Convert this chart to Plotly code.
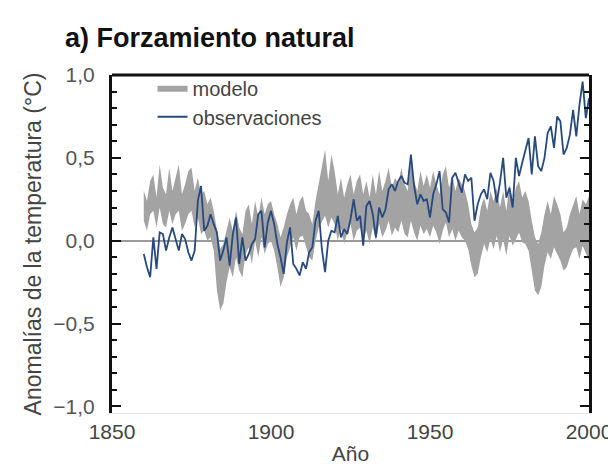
import plotly.graph_objects as go

years = list(range(1860, 2001))

model_upper = [
    0.30, 0.24, 0.36, 0.40, 0.26, 0.46, 0.32, 0.28, 0.44, 0.30,
    0.38, 0.46, 0.28, 0.34, 0.42, 0.44, 0.30, 0.38, 0.28, 0.30,
    0.22, 0.26, 0.18, 0.05, -0.05, -0.02, 0.06, 0.14, 0.06, 0.18,
    0.08, 0.04, 0.18, 0.22, 0.10, 0.24, 0.14, 0.26, 0.16, 0.22,
    0.24, 0.16, 0.10, 0.02, 0.08, 0.16, 0.22, 0.26, 0.16, 0.24,
    0.27, 0.18, 0.16, 0.10, 0.24, 0.34, 0.45, 0.55, 0.36, 0.52,
    0.42, 0.28, 0.38, 0.26, 0.34, 0.40, 0.28, 0.36, 0.40, 0.28,
    0.36, 0.26, 0.40, 0.28, 0.42, 0.30, 0.36, 0.44, 0.32, 0.38,
    0.34, 0.44, 0.34, 0.30, 0.48, 0.36, 0.30, 0.42, 0.33, 0.40,
    0.32, 0.42, 0.34, 0.28, 0.40, 0.45, 0.32, 0.40, 0.30, 0.38,
    0.34, 0.30, 0.22, 0.10, 0.05, 0.08, 0.20, 0.26, 0.18, 0.30,
    0.24, 0.32, 0.20, 0.30, 0.18, 0.34, 0.24, 0.32, 0.36, 0.26,
    0.30, 0.24, 0.12, 0.02, -0.02, 0.05, 0.16, 0.24, 0.16, 0.27,
    0.22, 0.16, 0.05, 0.08, 0.16, 0.22, 0.27, 0.16, 0.25, 0.22,
    0.27,
]

model_lower = [
    0.12, 0.06, 0.16, 0.18, 0.08, 0.20, 0.10, 0.08, 0.18, 0.10,
    0.16, 0.18, 0.06, 0.10, 0.16, 0.18, 0.08, 0.14, 0.04, 0.06,
    0.00, 0.02, -0.06, -0.30, -0.42, -0.38, -0.25, -0.16, -0.22, -0.10,
    -0.18, -0.22, -0.08, -0.04, -0.14, 0.00, -0.10, 0.02, -0.08, -0.02,
    0.00, -0.06, -0.16, -0.28, -0.22, -0.10, -0.04, 0.02, -0.06, 0.02,
    0.03, -0.04, -0.10, -0.12, 0.00, 0.08, 0.12, 0.15, 0.08, 0.14,
    0.10, 0.00, 0.08, -0.02, 0.05, 0.10, 0.00, 0.06, 0.08, 0.00,
    0.06, -0.02, 0.08, 0.00, 0.10, 0.02, 0.06, 0.12, 0.03, 0.08,
    0.05, 0.12, 0.04, 0.02, 0.12, 0.05, 0.00, 0.09, 0.04, 0.07,
    0.02, 0.09, 0.05, -0.02, 0.06, 0.11, 0.02, 0.07, 0.00, 0.06,
    0.02, 0.00, -0.05, -0.15, -0.22, -0.20, -0.10, -0.02, -0.07, 0.01,
    -0.05, 0.03, -0.07, 0.01, -0.09, 0.03, -0.03, 0.01, 0.05, -0.01,
    -0.02, -0.06, -0.18, -0.30, -0.33, -0.28, -0.15, -0.07, -0.11, -0.04,
    -0.08, -0.12, -0.18, -0.16, -0.10, -0.05, -0.04, -0.11, -0.03, -0.08,
    -0.12,
]

observations = [
    -0.08, -0.16, -0.22, 0.02, -0.17, 0.05, 0.04, -0.06, 0.02, 0.08,
    0.01, -0.06, 0.04, 0.01, -0.07, -0.12, -0.06, 0.24, 0.33, 0.06,
    0.09, 0.16, 0.10, 0.05, -0.12, -0.06, 0.02, -0.15, 0.04, 0.14,
    -0.14, 0.02, -0.12, -0.08, -0.02, 0.01, 0.16, 0.18, -0.04, 0.11,
    0.18, 0.10, -0.02, -0.10, -0.20, -0.01, 0.08, -0.14, -0.17, -0.21,
    -0.13, -0.17, -0.07, -0.04, 0.12, 0.18, -0.05, -0.19, 0.00, 0.06,
    0.05, 0.15, 0.02, 0.07, 0.04, 0.13, 0.25, 0.12, 0.15, -0.03,
    0.21, 0.24, 0.16, 0.02, 0.20, 0.14, 0.19, 0.31, 0.34, 0.30,
    0.36, 0.39, 0.35, 0.34, 0.52, 0.33, 0.22, 0.28, 0.24, 0.25,
    0.14, 0.28, 0.34, 0.42, 0.19, 0.17, 0.11, 0.38, 0.41, 0.35,
    0.29, 0.40, 0.36, 0.38, 0.12, 0.22, 0.28, 0.31, 0.25, 0.41,
    0.36, 0.23, 0.35, 0.50, 0.26, 0.32, 0.20, 0.50, 0.39, 0.47,
    0.55, 0.62, 0.40, 0.63, 0.45, 0.42, 0.50, 0.65, 0.69, 0.56,
    0.75, 0.72, 0.52, 0.56, 0.64, 0.79, 0.63, 0.82, 0.96, 0.74,
    0.86,
]

y_tickvals = [-1.0, -0.5, 0.0, 0.5, 1.0]
x_tickvals = [1850, 1900, 1950, 2000]

FONT = "Liberation Sans, Arial, sans-serif"

fig = go.Figure()
fig.add_trace(go.Scatter(x=years, y=model_lower, mode="lines",
                         line=dict(width=0, color="#a3a3a3"),
                         showlegend=False, hoverinfo="skip"))
fig.add_trace(go.Scatter(x=years, y=model_upper, mode="lines",
                         line=dict(width=0, color="#a3a3a3"),
                         fill="tonexty", fillcolor="#a3a3a3",
                         name="modelo"))
fig.add_trace(go.Scatter(x=years, y=observations, mode="lines",
                         line=dict(width=1.8, color="#27497e"),
                         name="observaciones"))

fig.update_layout(
    width=616, height=466,
    margin=dict(l=104, r=27, t=67, b=56),
    paper_bgcolor="white", plot_bgcolor="white",
    separators=",.",
    font=dict(family=FONT, size=21, color="#444"),
    title=dict(text="<b>a) Forzamiento natural</b>", x=57/616, xanchor="left",
               y=1-30/466, yanchor="middle",
               font=dict(family=FONT, size=27, color="#111")),
    showlegend=True,
    legend=dict(x=0.085, y=1.02, xanchor="left", yanchor="top",
                traceorder="normal",
                bgcolor="rgba(0,0,0,0)", font=dict(size=20, color="#444"),
                itemwidth=30, tracegroupgap=0),
    xaxis=dict(range=[1850, 2000], tickvals=x_tickvals, ticks="",
               showline=True, linecolor="#e4e4e4", linewidth=1,
               showgrid=False, zeroline=False,
               tickfont=dict(size=21, color="#444"), ticklabelstandoff=0,
               title=dict(text="Año", font=dict(size=21, color="#444"), standoff=4)),
    yaxis=dict(range=[-1.04, 1.0], tickvals=y_tickvals, tickformat=".1f",
               ticks="inside", ticklen=9, tickwidth=2, tickcolor="#111",
               minor=dict(dtick=0.1, ticks="inside", ticklen=5, tickwidth=1.5,
                          tickcolor="#111"),
               showline=True, linecolor="#111", linewidth=3, mirror="ticks",
               showgrid=False,
               zeroline=True, zerolinecolor="#9a9a9a", zerolinewidth=2,
               tickfont=dict(size=21, color="#555"), ticklabelstandoff=10,
               title=dict(text="Anomalías de la temperatura (°C)",
                          font=dict(size=23, color="#444"), standoff=6)),
    shapes=[dict(type="line", xref="paper", yref="paper", x0=0, x1=1, y0=1, y1=1,
                 line=dict(color="#111", width=3))],
)

fig.write_html("out.html")
